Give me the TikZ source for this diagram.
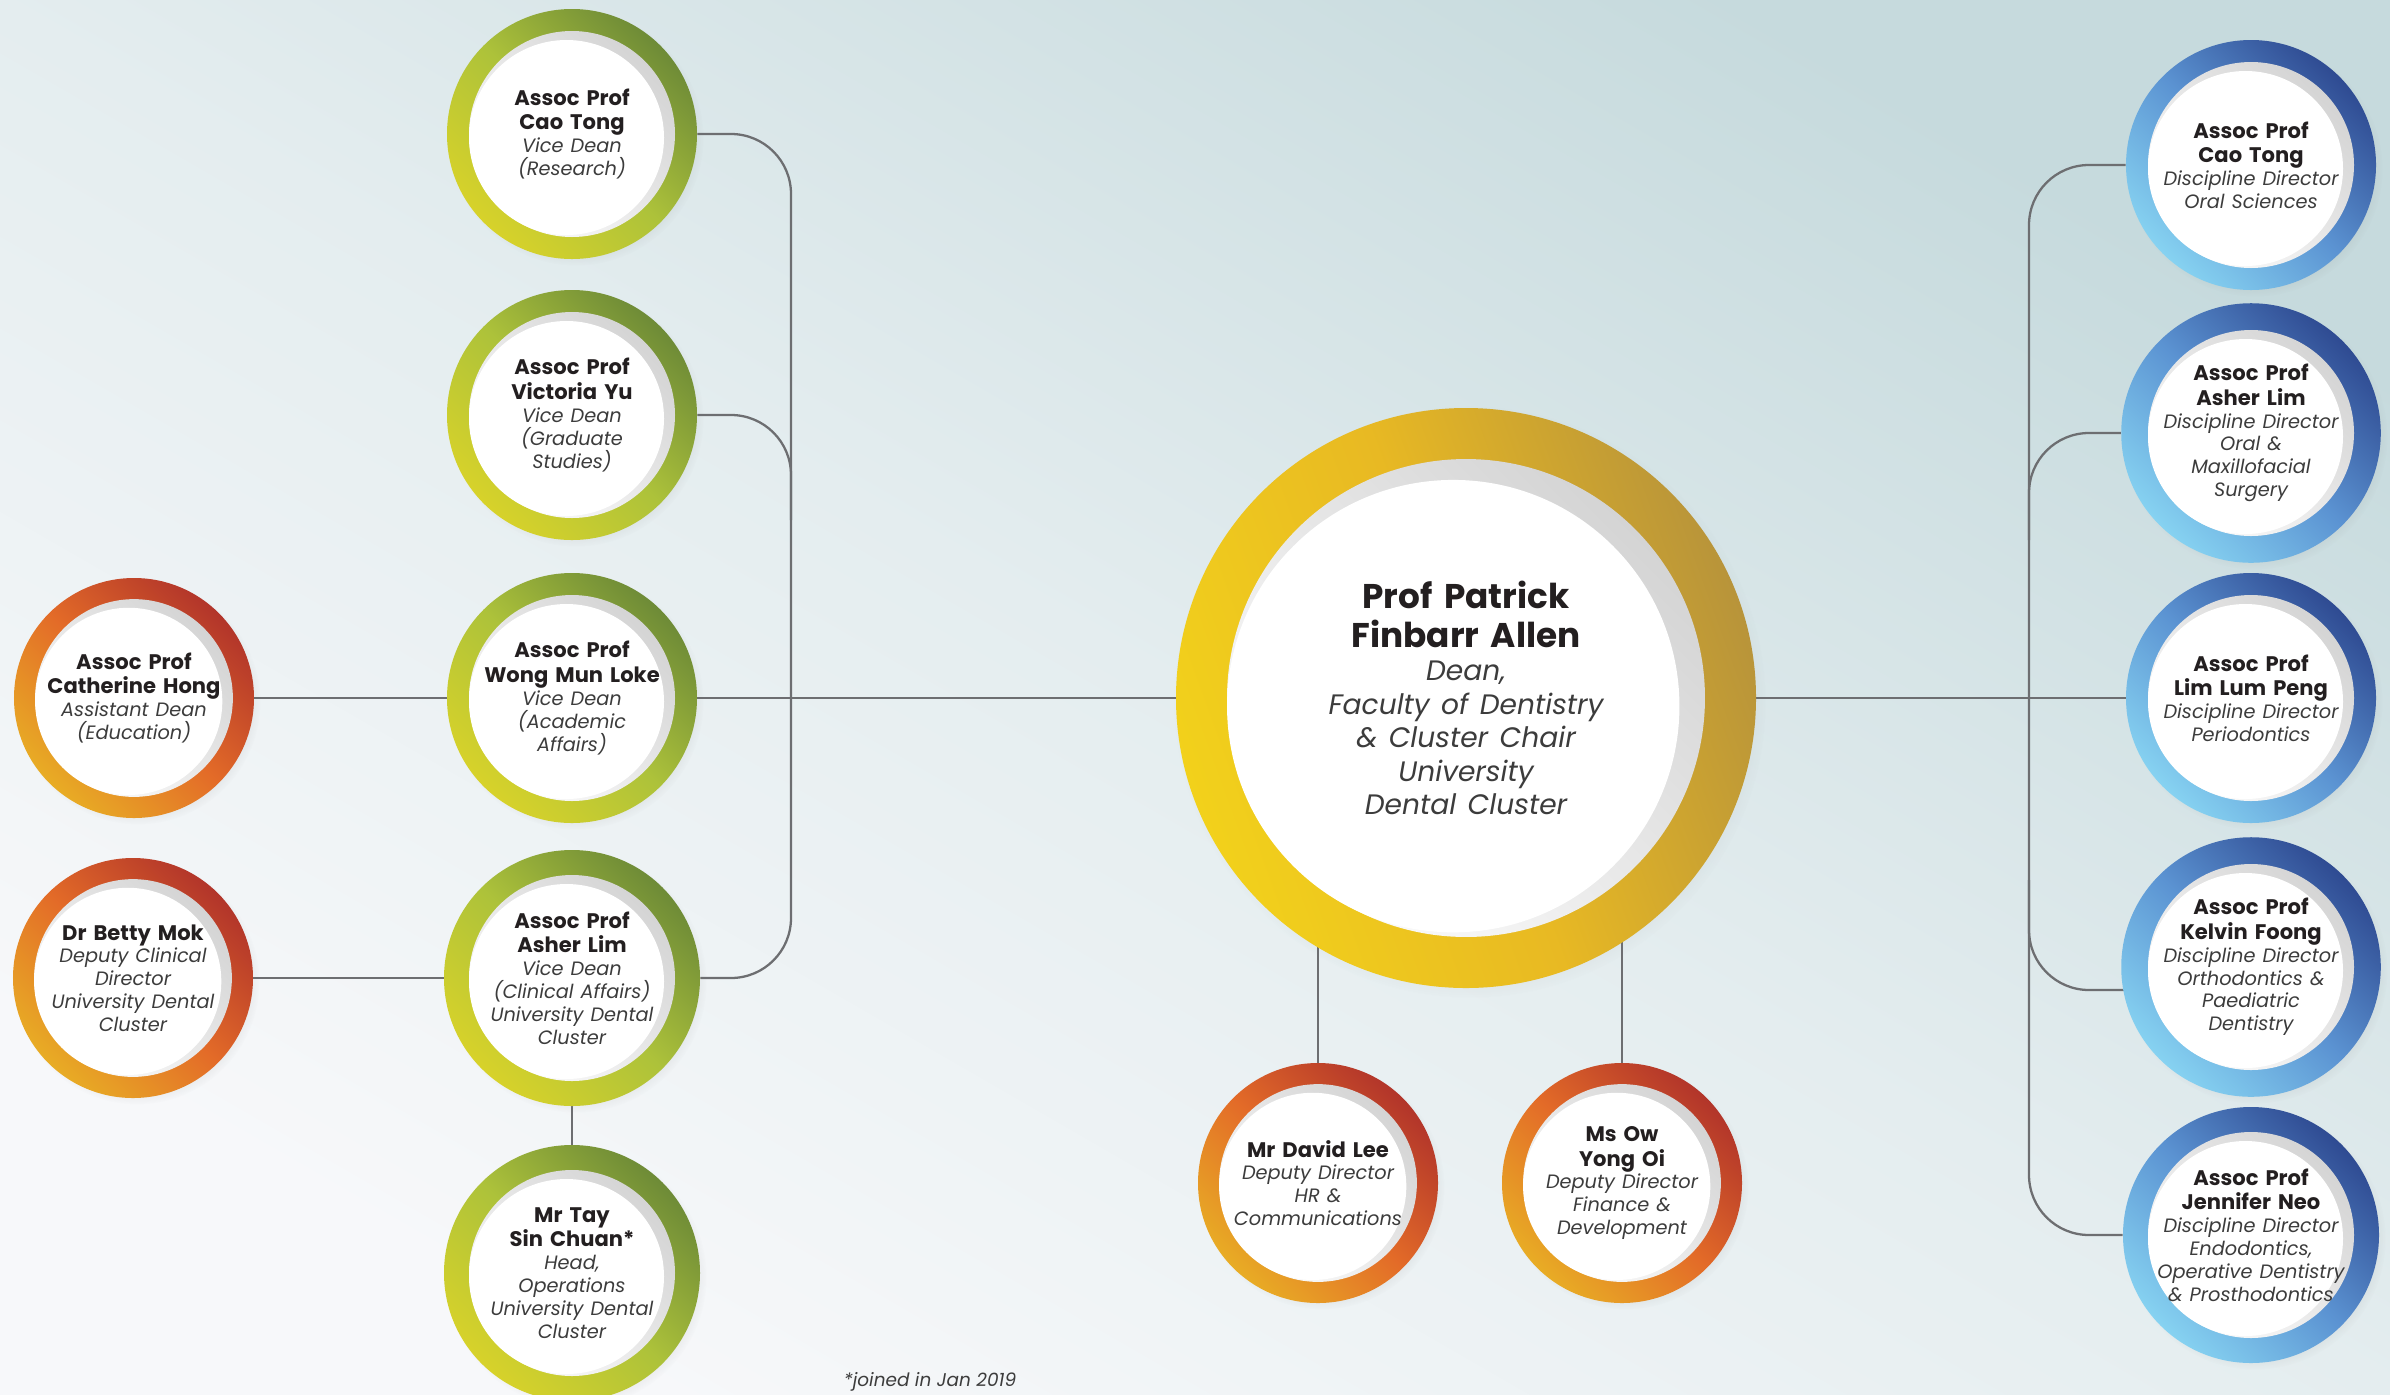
\documentclass[tikz,border=0pt]{standalone}
\usepackage{fontspec}
\setmainfont{Poppins}
\usetikzlibrary{backgrounds,shadows}

\definecolor{linkgray}{HTML}{6D6E71}
\definecolor{namecol}{HTML}{231F20}
\definecolor{rolecol}{HTML}{3C3C3C}
\definecolor{paper}{HTML}{D0D0D0}
\definecolor{bgtop}{HTML}{C6DADD}
\definecolor{bgmid}{HTML}{E4EDEF}
\definecolor{bgbot}{HTML}{F7F8FA}
\definecolor{grnA}{HTML}{D7D22A}
\definecolor{grnB}{HTML}{ADC23A}
\definecolor{grnC}{HTML}{6E8B37}
\definecolor{orgA}{HTML}{E8AC25}
\definecolor{orgB}{HTML}{E36B28}
\definecolor{orgC}{HTML}{B2352A}
\definecolor{bluA}{HTML}{86D2F1}
\definecolor{bluB}{HTML}{5B93D2}
\definecolor{bluC}{HTML}{2F4B92}
\definecolor{gldA}{HTML}{F2D11B}
\definecolor{gldB}{HTML}{E8B923}
\definecolor{gldC}{HTML}{B8943A}

\newcommand{\rolefont}{\fontsize{11}{13}\selectfont}
\newcommand{\pname}[1]{{\bfseries #1\par}}
\newcommand{\prole}[1]{{\itshape\rolefont\color{rolecol}#1\par}}

\tikzset{
  link/.style={draw=linkgray, line width=1.3pt},
  bus/.style={link, rounded corners=12mm},
  person/.style n args={4}{circle, minimum size=#1, inner sep=0pt, align=center,
    text=namecol, font=\fontsize{12}{14}\selectfont,
    top color=#4, bottom color=#2, middle color=#3, shading angle=-45,
    circular drop shadow={shadow xshift=0.8mm, shadow yshift=-0.8mm, opacity=0.18, shadow scale=1.02},
    path picture={
      \shade[top color=paper, bottom color=white, shading angle=-45]
        (path picture bounding box.center) circle[radius=0.412*#1];
      \fill[white] ([xshift=-0.022*#1, yshift=-0.014*#1]path picture bounding box.center)
        circle[radius=0.39*#1];
    }},
  greenring/.style={person={50mm}{grnA}{grnB}{grnC}, text width=44mm},
  orangering/.style={person={48mm}{orgA}{orgB}{orgC}, text width=42mm},
  bluering/.style={person={50mm}{bluA}{bluB}{bluC}, text width=44mm},
  deanring/.style={person={116mm}{gldA}{gldB}{gldC}, shading angle=-70, text width=92mm,
    font=\fontsize{19.5}{22}\selectfont,
    execute at begin node={\renewcommand{\rolefont}{\fontsize{16}{19}\selectfont}}}
}

\begin{document}
\begin{tikzpicture}[x=0.2mm, y=-0.2mm]
  \useasboundingbox (0,0) rectangle (2390,1394);

  % dean
  \node[deanring] (dean) at (1466,698) {\pname{Prof Patrick\\Finbarr Allen}\prole{Dean,\\Faculty of Dentistry\\\& Cluster Chair\\University\\Dental Cluster}};

  % vice deans
  \node[greenring] (vdres) at (572,134) {\pname{Assoc Prof\\Cao Tong}\prole{Vice Dean\\(Research)}};
  \node[greenring] (vdgrad) at (572,415) {\pname{Assoc Prof\\Victoria Yu}\prole{Vice Dean\\(Graduate\\Studies)}};
  \node[greenring] (vdacad) at (572,698) {\pname{Assoc Prof\\Wong Mun Loke}\prole{Vice Dean\\(Academic\\Affairs)}};
  \node[greenring] (vdclin) at (572,978) {\pname{Assoc Prof\\Asher Lim}\prole{Vice Dean\\(Clinical Affairs)\\University Dental\\Cluster}};
  \node[greenring] (headops) at (572,1273) {\pname{Mr Tay\\Sin Chuan*}\prole{Head,\\Operations\\University Dental\\Cluster}};

  \node[orangering] (adedu) at (134,698) {\pname{Assoc Prof\\Catherine Hong}\prole{Assistant Dean\\(Education)}};
  \node[orangering] (dcd) at (133,978) {\pname{Dr Betty Mok}\prole{Deputy Clinical\\Director\\University Dental\\Cluster}};

  % deputy directors
  \node[orangering] (ddhr) at (1318,1183) {\pname{Mr David Lee}\prole{Deputy Director\\HR \&\\Communications}};
  \node[orangering] (ddfin) at (1622,1183) {\pname{Ms Ow\\Yong Oi}\prole{Deputy Director\\Finance \&\\Development}};

  % discipline directors
  \node[bluering] (ddoral) at (2251,165) {\pname{Assoc Prof\\Cao Tong}\prole{Discipline Director\\Oral Sciences}};
  \node[bluering] (ddoms) at (2251,433) {\pname{Assoc Prof\\Asher Lim}\prole{Discipline Director\\Oral \&\\Maxillofacial\\Surgery}};
  \node[bluering] (ddperio) at (2251,698) {\pname{Assoc Prof\\Lim Lum Peng}\prole{Discipline Director\\Periodontics}};
  \node[bluering] (ddortho) at (2251,967) {\pname{Assoc Prof\\Kelvin Foong}\prole{Discipline Director\\Orthodontics \&\\Paediatric\\Dentistry}};
  \node[bluering] (ddendo) at (2251,1235) {\pname{Assoc Prof\\Jennifer Neo}\prole{Discipline Director\\Endodontics,\\Operative Dentistry\\\& Prosthodontics}};

  \node[anchor=base, text=rolecol, font=\fontsize{10.5}{12}\selectfont\itshape] (note) at (930,1386) {*joined in Jan 2019};

  \begin{scope}[on background layer]
    \shade[top color=bgtop, bottom color=bgbot, middle color=bgmid, shading angle=-30]
      (0,0) rectangle (2390,1394);
    \coordinate (lbus) at (791,698);
    \coordinate (rbus) at (2029,698);
    \coordinate (lgrad) at (791,520);
    \coordinate (roms) at (2029,540);
    \coordinate (rortho) at (2029,880);

    \draw[bus] (vdres) -| (lbus |- vdclin) -- (vdclin);
    \draw[bus] (vdgrad) -| (lgrad);
    \draw[bus] (ddoral) -| (rbus |- ddendo) -- (ddendo);
    \draw[bus] (ddoms) -| (roms);
    \draw[bus] (rortho) |- ([yshift=-4.6mm]ddortho.center);
    \foreach \from/\to in {adedu/vdacad, vdacad/dean, dcd/vdclin, vdclin/headops, dean/ddperio}
      \draw[link] (\from) -- (\to);
    \draw[link] (ddhr) -- (ddhr |- dean);
    \draw[link] (ddfin) -- (ddfin |- dean);
  \end{scope}
\end{tikzpicture}
\end{document}
